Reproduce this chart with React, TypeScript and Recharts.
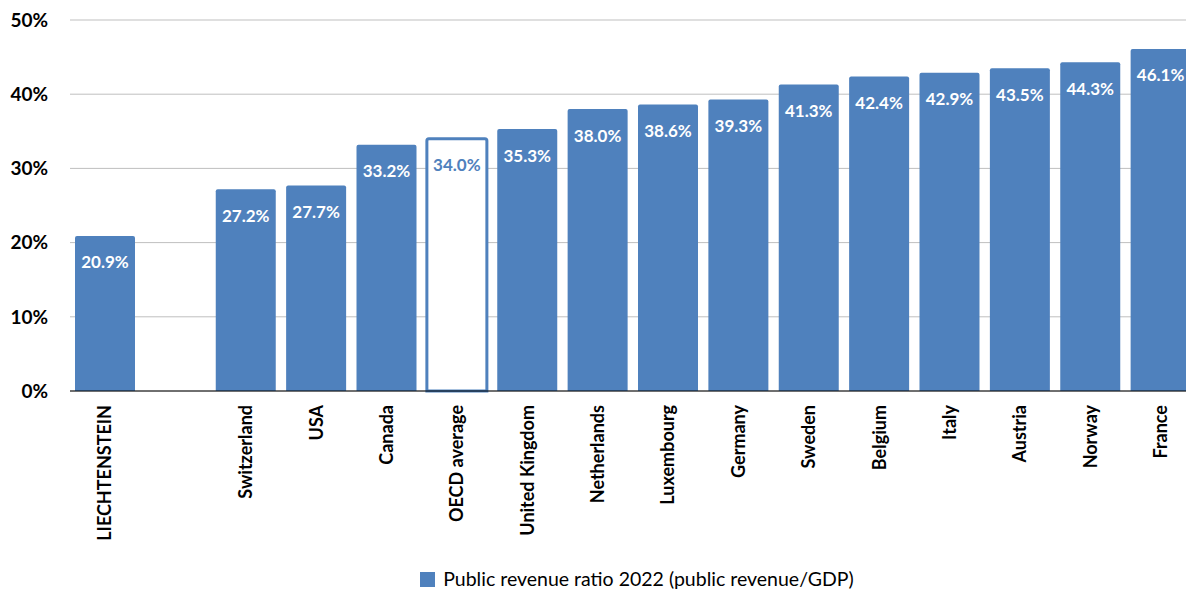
import React from "react";
import {
  BarChart,
  Bar,
  XAxis,
  YAxis,
  CartesianGrid,
  Legend,
  Cell,
  LabelList,
} from "recharts";

const countries = [
  "LIECHTENSTEIN",
  "",
  "Switzerland",
  "USA",
  "Canada",
  "OECD average",
  "United Kingdom",
  "Netherlands",
  "Luxembourg",
  "Germany",
  "Sweden",
  "Belgium",
  "Italy",
  "Austria",
  "Norway",
  "France",
];
const revenueRatio = [
  20.9, null, 27.2, 27.7, 33.2, 34.0, 35.3, 38.0, 38.6, 39.3, 41.3, 42.4, 42.9,
  43.5, 44.3, 46.1,
];
const yTicks = [0, 10, 20, 30, 40, 50];
const seriesName = "Public revenue ratio 2022 (public revenue/GDP)";
const highlight = "OECD average";

const BLUE = "#4F81BD";
const FONT = "Lato, 'Open Sans', sans-serif";

const data = countries.map((name, i) => ({ name, value: revenueRatio[i] }));

const CountryTick = (props: any) => {
  const { x, y, payload } = props;
  if (!payload.value) return null;
  const ty = y + 6;
  return (
    <text
      x={x}
      y={ty}
      transform={`rotate(-90, ${x}, ${ty})`}
      textAnchor="end"
      dy="0.35em"
      fontFamily={FONT}
      fontWeight={700}
      fontSize={18}
      fill="#000"
    >
      {payload.value}
    </text>
  );
};

// LabelList passes the country name; the value is looked up from the arrays
const ValueLabel = (props: any) => {
  const { x, y, width, value } = props;
  const idx = countries.indexOf(value);
  const v = idx >= 0 ? revenueRatio[idx] : null;
  if (v == null) return null;
  const isAvg = value === highlight;
  return (
    <text
      x={x + width / 2}
      y={y + 26}
      textAnchor="middle"
      dominantBaseline="central"
      fontFamily={FONT}
      fontWeight={700}
      fontSize={17}
      fill={isAvg ? BLUE : "#fff"}
    >
      {v.toFixed(1)}%
    </text>
  );
};

const LegendBox = () => (
  <div
    style={{
      display: "flex",
      alignItems: "center",
      justifyContent: "center",
      fontFamily: FONT,
      fontSize: 19.5,
      color: "#000",
      paddingLeft: 78,
      lineHeight: "20px",
    }}
  >
    <span
      style={{
        display: "inline-block",
        width: 15,
        height: 15,
        background: BLUE,
        marginRight: 8,
      }}
    />
    {seriesName}
  </div>
);

export default function App() {
  return (
    <div
      style={{
        position: "absolute",
        left: 0,
        top: 0,
        width: 1186,
        height: 589,
        overflow: "hidden",
        background: "#fff",
      }}
    >
      <BarChart
        width={1200}
        height={589}
        data={data}
        margin={{ top: 20, right: 4, left: 0, bottom: 0 }}
        barCategoryGap={5}
      >
        <CartesianGrid vertical={false} stroke="#bfbfbf" />
        <XAxis
          dataKey="name"
          interval={0}
          tickLine={false}
          axisLine={{ stroke: "#000" }}
          tick={<CountryTick />}
          height={178}
        />
        <YAxis
          domain={[0, 50]}
          ticks={yTicks}
          width={70}
          axisLine={false}
          tickLine={false}
          tickMargin={16}
          tickFormatter={(v) => `${v}%`}
          tick={{ fontFamily: FONT, fontWeight: 700, fontSize: 19, fill: "#000" }}
        />
        <Legend verticalAlign="bottom" height={20} content={<LegendBox />} />
        <Bar
          dataKey="value"
          name={seriesName}
          fill={BLUE}
          radius={[2, 2, 0, 0]}
          isAnimationActive={false}
        >
          {data.map((d, i) => (
            <Cell
              key={i}
              fill={d.name === highlight ? "#fff" : BLUE}
              stroke={d.name === highlight ? BLUE : "none"}
              strokeWidth={d.name === highlight ? 3 : 0}
            />
          ))}
          <LabelList dataKey="name" content={<ValueLabel />} />
        </Bar>
      </BarChart>
    </div>
  );
}
